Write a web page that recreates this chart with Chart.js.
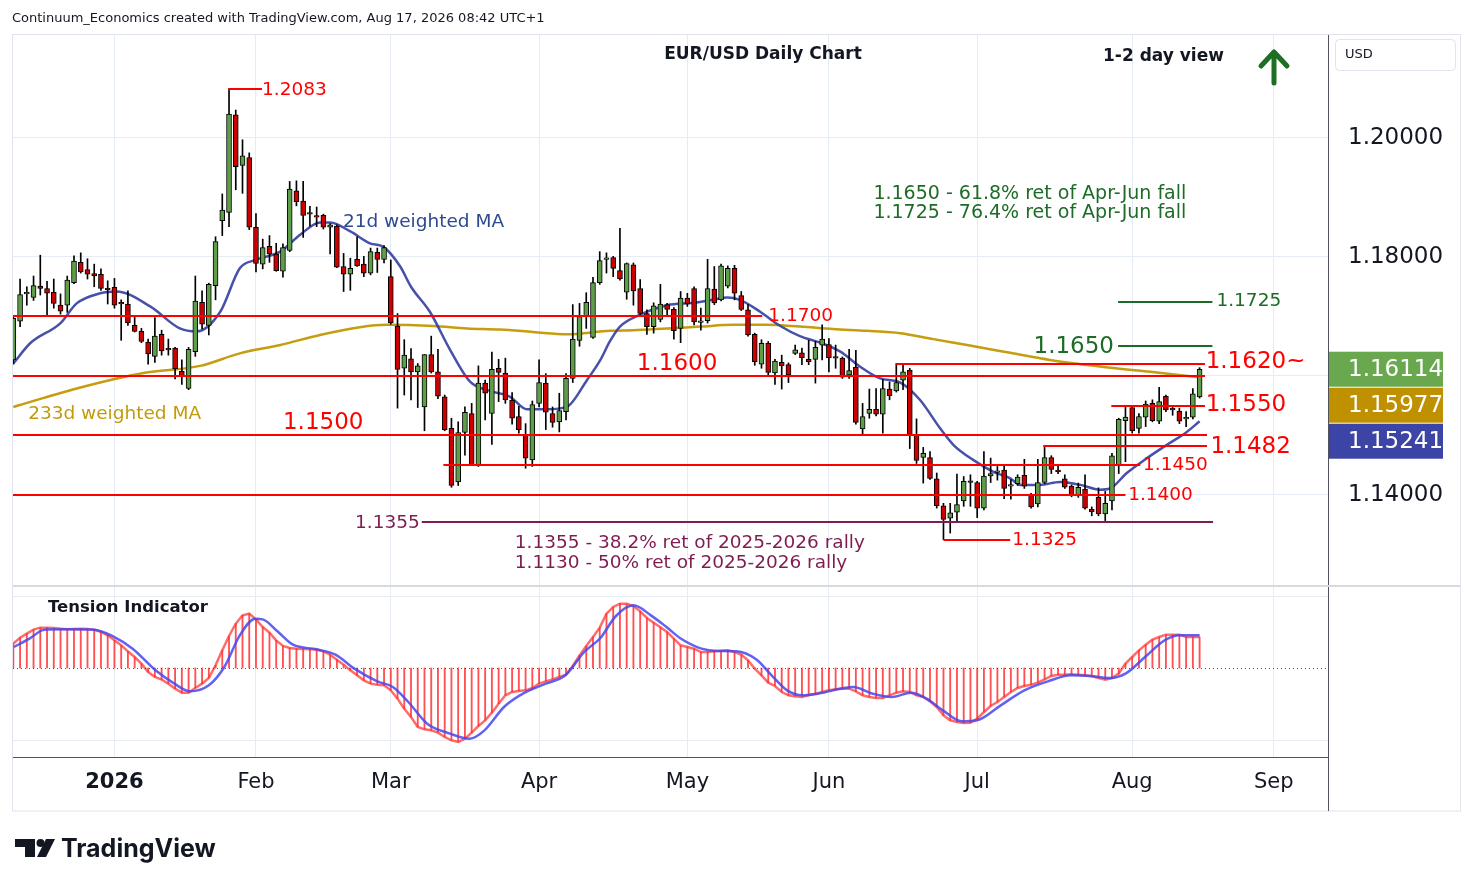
<!DOCTYPE html>
<html lang="en">
<head>
  <meta charset="UTF-8">
  <title>EUR/USD Daily Chart</title>
  <script src="https://cdn.jsdelivr.net/npm/chart.js"></script>
  <style>
    html, body { margin: 0; padding: 0; background: #fff; }
    .wrap { position: relative; width: 1474px; height: 887px; }
  </style>
</head>
<body>
<div class="wrap"><canvas id="chart"></canvas></div>

<script>
  // daily bars, 10 Dec 2025 .. 17 Aug 2026 (weekdays, no 25 Dec / 1 Jan)
  const firstDay = '2025-12-10';
  const holidays = ['2025-12-25', '2026-01-01'];
  const totalSlots = 196; // includes empty days on the right

  const opens = [
    1.1627,1.1692,1.1738,1.1732,1.1751,1.1747,1.1741,1.1719,1.1719,1.1757,
    1.1791,1.1779,1.1772,1.1771,1.1746,1.1749,1.1724,1.1721,1.1685,1.1675,
    1.1657,1.1633,1.1670,1.1645,1.1647,1.1608,1.1579,1.1641,1.1724,1.1685,
    1.1752,1.1861,1.1875,1.2039,1.1954,1.1967,1.1850,1.1788,1.1818,1.1805,
    1.1776,1.1811,1.1911,1.1894,1.1873,1.1868,1.1870,1.1850,1.1852,1.1784,
    1.1771,1.1796,1.1788,1.1773,1.1808,1.1796,1.1767,1.1684,1.1613,1.1629,
    1.1607,1.1548,1.1636,1.1607,1.1565,1.1512,1.1422,1.1505,1.1537,1.1450,
    1.1588,1.1537,1.1613,1.1605,1.1559,1.1532,1.1501,1.1459,1.1554,1.1588,
    1.1537,1.1523,1.1540,1.1596,1.1660,1.1701,1.1665,1.1757,1.1796,1.1799,
    1.1777,1.1741,1.1787,1.1747,1.1705,1.1683,1.1695,1.1720,1.1712,1.1680,
    1.1731,1.1747,1.1690,1.1693,1.1746,1.1728,1.1751,1.1781,1.1735,1.1711,
    1.1670,1.1620,1.1655,1.1605,1.1623,1.1619,1.1638,1.1639,1.1628,1.1628,
    1.1652,1.1653,1.1631,1.1630,1.1602,1.1615,1.1511,1.1537,1.1544,1.1536,
    1.1578,1.1575,1.1593,1.1610,1.1501,1.1463,1.1463,1.1427,1.1382,1.1361,
    1.1371,1.1390,1.1424,1.1421,1.1378,1.1432,1.1438,1.1442,1.1415,1.1419,
    1.1433,1.1400,1.1385,1.1421,1.1463,1.1442,1.1427,1.1415,1.1399,1.1410,
    1.1376,1.1396,1.1368,1.1390,1.1451,1.1525,1.1547,1.1512,1.1531,1.1554,
    1.1524,1.1566,1.1544,1.1541,1.1528,1.1531,1.1565
  ];
  const highs = [
    1.1700,1.1763,1.1750,1.1768,1.1803,1.1759,1.1763,1.1738,1.1768,1.1802,
    1.1807,1.1797,1.1788,1.1780,1.1760,1.1764,1.1728,1.1743,1.1702,1.1680,
    1.1662,1.1698,1.1677,1.1662,1.1648,1.1627,1.1648,1.1768,1.1743,1.1756,
    1.1834,1.1906,1.2083,1.2047,1.1997,1.1975,1.1873,1.1830,1.1836,1.1823,
    1.1822,1.1927,1.1928,1.1927,1.1885,1.1884,1.1872,1.1856,1.1854,1.1806,
    1.1798,1.1834,1.1801,1.1815,1.1815,1.1819,1.1795,1.1705,1.1661,1.1646,
    1.1621,1.1636,1.1667,1.1645,1.1568,1.1529,1.1523,1.1548,1.1554,1.1617,
    1.1593,1.1640,1.1628,1.1630,1.1572,1.1549,1.1520,1.1558,1.1627,1.1604,
    1.1548,1.1571,1.1604,1.1720,1.1722,1.1740,1.1766,1.1809,1.1807,1.1801,
    1.1848,1.1790,1.1790,1.1762,1.1711,1.1723,1.1754,1.1722,1.1715,1.1742,
    1.1739,1.1750,1.1714,1.1796,1.1784,1.1788,1.1785,1.1786,1.1742,1.1720,
    1.1672,1.1661,1.1658,1.1628,1.1635,1.1622,1.1652,1.1647,1.1660,1.1658,
    1.1686,1.1663,1.1652,1.1632,1.1645,1.1643,1.1554,1.1578,1.1579,1.1594,
    1.1590,1.1621,1.1621,1.1613,1.1528,1.1480,1.1473,1.1437,1.1386,1.1386,
    1.1435,1.1431,1.1434,1.1423,1.1473,1.1462,1.1448,1.1449,1.1426,1.1434,
    1.1460,1.1403,1.1460,1.1482,1.1466,1.1449,1.1434,1.1417,1.1420,1.1434,
    1.1380,1.1412,1.1406,1.1470,1.1529,1.1548,1.1550,1.1537,1.1558,1.1560,
    1.1581,1.1568,1.1548,1.1546,1.1540,1.1579,1.1614
  ];
  const lows = [
    1.1620,1.1683,1.1719,1.1727,1.1736,1.1703,1.1714,1.1704,1.1707,1.1755,
    1.1773,1.1763,1.1750,1.1744,1.1721,1.1714,1.1660,1.1685,1.1674,1.1656,
    1.1620,1.1623,1.1635,1.1635,1.1595,1.1586,1.1577,1.1633,1.1679,1.1669,
    1.1728,1.1836,1.1851,1.1913,1.1907,1.1846,1.1775,1.1780,1.1791,1.1776,
    1.1766,1.1809,1.1886,1.1833,1.1852,1.1851,1.1847,1.1805,1.1782,1.1742,
    1.1744,1.1784,1.1767,1.1770,1.1774,1.1790,1.1687,1.1546,1.1568,1.1560,
    1.1547,1.1508,1.1605,1.1562,1.1508,1.1413,1.1416,1.1467,1.1450,1.1448,
    1.1526,1.1485,1.1557,1.1554,1.1519,1.1504,1.1445,1.1448,1.1548,1.1510,
    1.1514,1.1506,1.1526,1.1589,1.1650,1.1680,1.1663,1.1754,1.1773,1.1767,
    1.1761,1.1729,1.1719,1.1703,1.1670,1.1672,1.1691,1.1700,1.1662,1.1656,
    1.1717,1.1686,1.1677,1.1689,1.1720,1.1726,1.1748,1.1728,1.1710,1.1667,
    1.1618,1.1613,1.1600,1.1586,1.1578,1.1589,1.1636,1.1619,1.1619,1.1588,
    1.1627,1.1607,1.1613,1.1596,1.1596,1.1519,1.1503,1.1529,1.1533,1.1504,
    1.1560,1.1573,1.1577,1.1478,1.1453,1.1420,1.1426,1.1378,1.1325,1.1336,
    1.1357,1.1381,1.1381,1.1362,1.1375,1.1421,1.1425,1.1394,1.1393,1.1416,
    1.1411,1.1378,1.1380,1.1419,1.1436,1.1436,1.1411,1.1397,1.1396,1.1376,
    1.1365,1.1365,1.1357,1.1375,1.1436,1.1456,1.1504,1.1504,1.1515,1.1523,
    1.1520,1.1540,1.1534,1.1520,1.1515,1.1528,1.1563
  ];
  const closes = [
    1.1697,1.1737,1.1740,1.1752,1.1747,1.1739,1.1722,1.1709,1.1761,1.1793,
    1.1775,1.1771,1.1768,1.1747,1.1745,1.1719,1.1721,1.1689,1.1675,1.1658,
    1.1637,1.1667,1.1642,1.1644,1.1612,1.1599,1.1645,1.1726,1.1687,1.1754,
    1.1826,1.1879,1.2040,1.1952,1.1970,1.1850,1.1789,1.1816,1.1805,1.1777,
    1.1816,1.1914,1.1893,1.1870,1.1872,1.1867,1.1850,1.1854,1.1783,1.1771,
    1.1781,1.1785,1.1773,1.1809,1.1796,1.1816,1.1689,1.1611,1.1635,1.1607,
    1.1617,1.1636,1.1607,1.1566,1.1510,1.1416,1.1505,1.1539,1.1451,1.1588,
    1.1571,1.1611,1.1606,1.1560,1.1529,1.1510,1.1462,1.1552,1.1589,1.1539,
    1.1522,1.1542,1.1596,1.1662,1.1700,1.1724,1.1757,1.1794,1.1797,1.1781,
    1.1763,1.1789,1.1743,1.1705,1.1683,1.1718,1.1721,1.1712,1.1676,1.1731,
    1.1721,1.1691,1.1691,1.1747,1.1723,1.1785,1.1781,1.1739,1.1712,1.1669,
    1.1624,1.1655,1.1606,1.1625,1.1617,1.1602,1.1644,1.1631,1.1624,1.1648,
    1.1662,1.1631,1.1630,1.1598,1.1609,1.1522,1.1532,1.1544,1.1536,1.1579,
    1.1567,1.1589,1.1607,1.1502,1.1458,1.1470,1.1428,1.1382,1.1359,1.1370,
    1.1384,1.1423,1.1421,1.1378,1.1432,1.1436,1.1440,1.1411,1.1417,1.1430,
    1.1415,1.1380,1.1421,1.1463,1.1443,1.1439,1.1413,1.1399,1.1413,1.1378,
    1.1372,1.1368,1.1386,1.1466,1.1527,1.1531,1.1508,1.1532,1.1553,1.1525,
    1.1557,1.1543,1.1543,1.1524,1.1529,1.1570,1.1611
  ];

  // moving averages, read at the points where they could be read (bar index, value)
  const wma21Idx = [0,2.5,7,9.4,12.9,15.3,20.3,24.7,27.2,30.7,33.6,35.9,39.6,42.5,45.5,47,50,52.9,54.9,57.4,
    59,61.8,64.8,67.8,70.7,73.7,76.2,79.2,82.1,85.1,87.1,88.5,90,93,97,100.9,103.8,105.9,107.8,110.8,
    113.8,116.7,119.7,122.7,125.6,128.6,131.6,134.5,137.5,139.5,142.4,145.4,147.9,149.4,152.3,155.3,158.3,161.2,162.7,165.2,
    168.2,171.1,174.1,176];
  const wma21Val = [1.1621,1.1655,1.1689,1.1722,1.1739,1.1742,1.1717,1.1680,1.1675,1.1708,1.1781,1.1795,1.1809,1.1837,1.1858,1.1858,1.1843,1.1823,1.1817,1.1784,
    1.1750,1.1708,1.1644,1.1590,1.1575,1.1565,1.1544,1.1544,1.1548,1.1593,1.1627,1.1658,1.1683,1.1703,1.1719,1.1723,1.1728,1.1732,1.1728,1.1708,
    1.1684,1.1667,1.1656,1.1641,1.1616,1.1596,1.1589,1.1560,1.1512,1.1484,1.1459,1.1439,1.1428,1.1417,1.1417,1.1422,1.1417,1.1409,1.1411,1.1437,
    1.1462,1.1484,1.1506,1.1524];
  const wma233Idx = [0,9.4,19.3,27.7,33.6,39.6,45.5,51.4,55.4,62.3,67.3,72.2,77.1,82.1,88.5,92,97,101.9,106.8,111.8,
    116.7,121.6,126.6,131.6,136.5,141.5,147.9,153.8,161.2,168.7,176];
  const wma233Val = [1.1548,1.1579,1.1605,1.1617,1.1638,1.1652,1.1669,1.1682,1.1686,1.1684,1.1680,1.1678,1.1674,1.1670,1.1676,1.1677,1.1680,1.1683,1.1686,1.1686,
    1.1683,1.1679,1.1676,1.1672,1.1662,1.1652,1.1639,1.1627,1.1616,1.1607,1.1598];

  // tension indicator: histogram per bar, signal line at read points
  const tension = [
    7.3,9.1,10.3,11.5,12.1,12.1,12.0,11.8,11.6,11.7,
    11.8,11.7,11.5,10.8,9.8,8.3,6.8,5.0,3.3,1.3,
    -1.2,-2.7,-3.5,-4.7,-6.2,-7.4,-7.4,-6.0,-4.7,-3.0,
    0.8,5.3,9.6,13.3,15.8,16.3,14.6,12.3,10.6,8.3,
    6.6,6.0,5.8,5.7,5.6,5.5,5.0,4.0,2.5,1.0,
    -0.7,-2.2,-3.7,-4.7,-5.0,-5.2,-6.7,-9.2,-12.2,-14.7,
    -17.7,-18.4,-18.7,-19.4,-20.7,-21.7,-22.2,-21.2,-19.4,-17.4,
    -15.7,-13.4,-10.7,-8.2,-7.2,-6.9,-6.7,-6.0,-4.7,-4.0,
    -3.4,-2.7,-2.0,0.6,3.8,6.6,9.3,12.1,16.3,18.3,
    19.3,19.3,18.6,17.0,15.0,13.6,12.2,10.8,8.8,6.8,
    6.3,5.8,4.8,4.8,5.0,5.2,5.3,4.8,4.0,2.3,
    -0.2,-2.2,-4.4,-5.4,-7.2,-8.2,-8.5,-8.7,-8.2,-7.7,
    -7.2,-6.7,-6.4,-6.2,-6.2,-7.0,-8.2,-8.7,-9.0,-9.0,
    -8.2,-7.4,-7.0,-7.2,-8.2,-8.7,-10.0,-11.7,-14.2,-15.7,
    -16.2,-16.5,-16.4,-15.2,-13.2,-11.4,-10.2,-8.7,-7.2,-6.0,
    -5.4,-5.0,-4.4,-3.4,-2.4,-2.0,-2.0,-1.9,-2.0,-2.2,
    -2.5,-3.0,-3.5,-3.0,-1.7,1.3,3.3,5.3,7.0,8.5,
    9.3,10.0,10.0,10.0,9.3,9.3,9.3
  ];
  const signalIdx = [0.1,2.4,4.6,8.0,12.0,14.8,17.7,21.1,23.9,26.2,29.0,31.3,33.6,35.9,37.0,39.3,41.5,45.0,47.8,50.6,
    54.0,56.3,58.6,61.4,64.8,67.7,69.9,72.8,75.6,79.0,81.9,84.7,87.1,89.4,92.0,94.6,96.9,98.9,102.1,104.4,
    107.3,110.2,112.5,114.8,117.1,119.4,124.6,127.5,130.3,133.2,135.5,137.9,140.7,143.0,146.5,150.0,153.5,156.9,159.8,162.7,
    165.0,167.9,170.8,173.1,176.0];
  const signalVal = [6.3,8.8,11.5,11.6,11.5,9.5,5.8,-0.7,-4.7,-7.0,-5.2,0.3,9.8,14.8,14.6,10.8,7.0,5.6,4.0,-0.2,
    -4.0,-5.7,-10.2,-16.7,-19.7,-21.2,-18.7,-11.7,-7.7,-4.7,-2.2,4.8,9.0,15.6,18.8,15.8,12.3,9.0,5.8,5.1,
    5.0,2.6,-2.2,-6.7,-8.2,-7.7,-5.7,-7.7,-8.7,-7.4,-9.2,-12.7,-16.0,-15.7,-11.2,-6.7,-4.0,-2.2,-2.4,-3.0,
    -1.7,3.3,8.3,9.8,9.8];

  const priceTicks = [1.14, 1.16, 1.18, 1.20];
  const lastValues = [1.16114, 1.15977, 1.15241];
  const monthNames = ['Jan','Feb','Mar','Apr','May','Jun','Jul','Aug','Sep','Oct','Nov','Dec'];

  const GREEN = '#5f9e48', RED = '#cc0000';
  const LRED = '#ff0000', MAROON = '#7f1d50', DGREEN = '#1d6b27';
  const FONT = '"DejaVu Sans", sans-serif';

  // drawn levels: price, from bar, to bar
  const levels = [
    { p: 1.2083, from: 31.9, to: 36.9, color: LRED },
    { p: 1.1700, from: -0.05, to: 111.1, color: LRED },
    { p: 1.1600, from: -0.05, to: 176.8, color: LRED },
    { p: 1.1620, from: 131, to: 176.8, color: LRED },
    { p: 1.1550, from: 162.9, to: 176.8, color: LRED },
    { p: 1.1500, from: -0.05, to: 177.1, color: LRED },
    { p: 1.1482, from: 152.8, to: 177.1, color: LRED },
    { p: 1.1450, from: 63.8, to: 167.2, color: LRED },
    { p: 1.1400, from: -0.05, to: 165, color: LRED },
    { p: 1.1355, from: 60.6, to: 178, color: MAROON },
    { p: 1.1325, from: 138, to: 147.9, color: LRED },
    { p: 1.1725, from: 163.9, to: 177.9, color: DGREEN },
    { p: 1.1650, from: 163.9, to: 177.9, color: DGREEN }
  ];
  const notes = [
    { t: '1.2083', i: 36.9, p: 1.2081, c: LRED, s: 18.5 },
    { t: '1.1700', i: 112, p: 1.1700, c: LRED, s: 18.5 },
    { t: '1.1600', i: 92.5, p: 1.1620, c: LRED, s: 23 },
    { t: '1.1500', i: 40, p: 1.1521, c: LRED, s: 23 },
    { t: '1.1620~', i: 176.9, p: 1.16235, c: LRED, s: 23 },
    { t: '1.1550', i: 176.9, p: 1.1551, c: LRED, s: 23 },
    { t: '1.1482', i: 177.6, p: 1.1481, c: LRED, s: 23 },
    { t: '1.1450', i: 167.6, p: 1.1450, c: LRED, s: 18.5 },
    { t: '1.1400', i: 165.4, p: 1.1400, c: LRED, s: 18.5 },
    { t: '1.1355', i: 60.3, p: 1.1353, c: MAROON, s: 18.5, a: 'right' },
    { t: '1.1325', i: 148.2, p: 1.1324, c: LRED, s: 18.5 },
    { t: '1.1725', i: 178.5, p: 1.1726, c: DGREEN, s: 18.5 },
    { t: '1.1650', i: 163.3, p: 1.1648, c: DGREEN, s: 23, a: 'right' },
    { t: '21d weighted MA', i: 48.9, p: 1.1859, c: '#2e4a8e', s: 18.5 },
    { t: '233d weighted MA', i: 2.2, p: 1.1535, c: '#c29b0c', s: 18.5 },
    { t: '1.1650 - 61.8% ret of Apr-Jun fall', i: 127.6, p: 1.1906, c: DGREEN, s: 19 },
    { t: '1.1725 - 76.4% ret of Apr-Jun fall', i: 127.6, p: 1.1874, c: DGREEN, s: 19 },
    { t: '1.1355 - 38.2% ret of 2025-2026 rally', i: 74.4, p: 1.1319, c: MAROON, s: 18.5 },
    { t: '1.1130 - 50% ret of 2025-2026 rally', i: 74.4, p: 1.1286, c: MAROON, s: 18.5 }
  ];

  function buildDates() {
    const out = [];
    const d = new Date(firstDay + 'T00:00:00Z');
    while (out.length < totalSlots) {
      const s = d.toISOString().slice(0, 10);
      const wd = d.getUTCDay();
      if (wd !== 0 && wd !== 6 && !holidays.includes(s)) out.push(s);
      d.setUTCDate(d.getUTCDate() + 1);
    }
    return out;
  }
  const dates = buildDates();
  const monthTicks = [];
  dates.forEach((s, i) => {
    if (i > 0 && s.slice(5, 7) !== dates[i - 1].slice(5, 7)) monthTicks.push(i);
  });
  function monthLabel(i) {
    const m = parseInt(dates[i].slice(5, 7), 10) - 1;
    return m === 0 ? dates[i].slice(0, 4) : monthNames[m];
  }

  const wicks = lows.map((l, i) => ({ x: i, y: [l, highs[i]] }));
  const bodies = opens.map((o, i) => ({ x: i, y: [o, closes[i]] }));
  const bodyColors = opens.map((o, i) => closes[i] >= o ? GREEN : RED);
  const wma21 = wma21Idx.map((v, k) => ({ x: v, y: wma21Val[k] }));
  const wma233 = wma233Idx.map((v, k) => ({ x: v, y: wma233Val[k] }));
  const hist = tension.map((v, i) => ({ x: i, y: v }));
  const signal = signalIdx.map((v, k) => ({ x: v, y: signalVal[k] }));

  function label(ctx, s, x, y, font, color, align) {
    ctx.font = font;
    ctx.fillStyle = color;
    ctx.textAlign = align || 'left';
    ctx.textBaseline = 'middle';
    ctx.fillText(s, x, y);
  }

  const overlay = {
    id: 'overlay',
    beforeDraw(c) {
      const ctx = c.ctx;
      ctx.save();
      ctx.fillStyle = '#fff';
      ctx.fillRect(0, 0, c.width, c.height);
      ctx.restore();
    },
    afterDatasetsDraw(c) {
      const { ctx, chartArea: a, scales: { x, y, y2 } } = c;
      ctx.save();
      // zero line of the indicator
      ctx.strokeStyle = 'rgba(230,0,0,0.9)';
      ctx.lineWidth = 1;
      ctx.setLineDash([1, 3]);
      const zy = Math.round(y2.getPixelForValue(0)) + 0.5;
      ctx.beginPath(); ctx.moveTo(a.left, zy); ctx.lineTo(a.right, zy); ctx.stroke();
      ctx.setLineDash([]);

      levels.forEach(l => {
        const py = Math.round(y.getPixelForValue(l.p));
        ctx.strokeStyle = l.color;
        ctx.lineWidth = 2;
        ctx.beginPath();
        ctx.moveTo(x.getPixelForValue(l.from), py);
        ctx.lineTo(x.getPixelForValue(l.to), py);
        ctx.stroke();
      });
      notes.forEach(n => {
        label(ctx, n.t, x.getPixelForValue(n.i), y.getPixelForValue(n.p),
          n.s + 'px ' + FONT, n.c, n.a);
      });

      label(ctx, 'EUR/USD Daily Chart', 763, 55, 'bold 17px ' + FONT, '#131722', 'center');
      label(ctx, '1-2 day view', 1103, 57, 'bold 17px ' + FONT, '#131722');
      label(ctx, 'Tension Indicator', 48, 608, 'bold 16.5px ' + FONT, '#131722');

      // up arrow
      ctx.strokeStyle = '#1e6e24';
      ctx.lineWidth = 5;
      ctx.lineCap = 'round';
      ctx.lineJoin = 'round';
      ctx.beginPath();
      ctx.moveTo(1274, 83); ctx.lineTo(1274, 53);
      ctx.moveTo(1261, 66); ctx.lineTo(1274, 52); ctx.lineTo(1287, 66);
      ctx.stroke();
      ctx.restore();
    },
    afterDraw(c) {
      const { ctx, chartArea: a, scales: { y, y2 } } = c;
      ctx.save();
      // panel separator
      ctx.strokeStyle = '#d6d9e0';
      ctx.lineWidth = 2;
      ctx.beginPath(); ctx.moveTo(12, y2.top); ctx.lineTo(1460, y2.top); ctx.stroke();

      // last value boxes
      const boxColors = ['#6aa84f', '#bf9000', '#3c44a5'];
      let prevBottom = -1e9;
      lastValues.forEach((v, k) => {
        let top = y.getPixelForValue(v) - 17.5;
        if (top < prevBottom + 1) top = prevBottom + 1;
        ctx.fillStyle = boxColors[k];
        ctx.fillRect(a.right + 1, top, 114, 35);
        label(ctx, v.toFixed(5), a.right + 20, top + 18, '23px ' + FONT, '#fff');
        prevBottom = top + 35;
      });

      // currency box
      ctx.strokeStyle = '#e0e3eb';
      ctx.lineWidth = 1;
      ctx.beginPath();
      ctx.roundRect(1335.5, 39.5, 120, 31, 4);
      ctx.stroke();
      label(ctx, 'USD', 1345, 55, '13px ' + FONT, '#131722');

      // frame
      ctx.strokeStyle = '#e0e3eb';
      ctx.strokeRect(12.5, 34.5, 1448, 776.5);
      ctx.strokeStyle = '#50535e';
      ctx.beginPath(); ctx.moveTo(a.right + 0.5, a.bottom); ctx.lineTo(a.right + 0.5, 811); ctx.stroke();

      // header and logo
      label(ctx, 'Continuum_Economics created with TradingView.com, Aug 17, 2026 08:42 UTC+1',
        12, 19, '13px ' + FONT, '#131722');
      ctx.fillStyle = '#131722';
      ctx.fillRect(15, 839, 20, 8);
      ctx.fillRect(25, 839, 10, 18);
      ctx.beginPath(); ctx.arc(40.5, 843, 4, 0, Math.PI * 2); ctx.fill();
      ctx.beginPath();
      ctx.moveTo(46, 839); ctx.lineTo(55, 839); ctx.lineTo(46, 857); ctx.lineTo(37, 857);
      ctx.closePath(); ctx.fill();
      label(ctx, 'TradingView', 61, 849, 'bold 25px Inter, sans-serif', '#131722');
      ctx.restore();
    }
  };

  const paneAxis = (s) => { s.width = 132; };

  new Chart(document.getElementById('chart'), {
    type: 'bar',
    data: {
      datasets: [
        { type: 'bar', data: bodies, backgroundColor: bodyColors, borderColor: '#000', borderWidth: 1,
          borderSkipped: false, barThickness: 5, minBarLength: 1.5, grouped: false, yAxisID: 'y', order: 1 },
        { type: 'bar', data: wicks, backgroundColor: '#000', barThickness: 1, grouped: false,
          yAxisID: 'y', order: 2 },
        { type: 'line', data: wma21, borderColor: 'rgba(52,62,160,0.9)', borderWidth: 2.5, pointRadius: 0,
          cubicInterpolationMode: 'monotone', yAxisID: 'y', order: 3 },
        { type: 'line', data: wma233, borderColor: '#c59d0e', borderWidth: 2.5, pointRadius: 0,
          cubicInterpolationMode: 'monotone', yAxisID: 'y', order: 4 },
        { type: 'line', data: signal, borderColor: 'rgba(70,70,240,0.85)', borderWidth: 2.5, pointRadius: 0,
          cubicInterpolationMode: 'monotone', yAxisID: 'y2', order: 5 },
        { type: 'line', data: hist, borderColor: 'rgba(255,45,45,0.7)', borderWidth: 2.5, pointRadius: 0,
          yAxisID: 'y2', order: 6 },
        { type: 'bar', data: hist, backgroundColor: 'rgba(255,50,50,0.85)', barThickness: 1.2, grouped: false,
          yAxisID: 'y2', order: 7 }
      ]
    },
    options: {
      responsive: true,
      maintainAspectRatio: false,
      animation: false,
      events: [],
      layout: { padding: { left: 13, right: 14, top: 35, bottom: 77 } },
      plugins: { legend: { display: false }, tooltip: { enabled: false } },
      scales: {
        x: {
          type: 'linear', min: -0.05, max: 195.05, offset: false,
          afterBuildTicks: s => { s.ticks = monthTicks.map(v => ({ value: v })); },
          afterFit: s => { s.height = 53; },
          ticks: {
            autoSkip: false, maxRotation: 0, padding: 13, color: '#131722',
            callback: v => monthLabel(v),
            font: c => ({ family: FONT, size: 21, weight: c.tick && c.tick.value === monthTicks[0] ? 'bold' : 'normal' })
          },
          grid: { color: '#e6ecf3', drawTicks: false, offset: false },
          border: { color: '#50535e' }
        },
        y: {
          position: 'right', stack: 'panes', stackWeight: 551,
          min: 1.124706, max: 1.21731,
          afterBuildTicks: s => { s.ticks = priceTicks.map(v => ({ value: v })); },
          afterFit: paneAxis,
          ticks: { padding: 20, color: '#131722', font: { family: FONT, size: 23 },
            callback: v => (v === 1.16 ? '' : v.toFixed(5)) },
          grid: { color: '#e6ecf3', drawTicks: false },
          border: { color: '#50535e' }
        },
        y2: {
          position: 'right', stack: 'panes', stackWeight: 171,
          min: -26.7, max: 24.6,
          afterBuildTicks: s => { s.ticks = [-21.6, 21.6].map(v => ({ value: v })); },
          afterFit: paneAxis,
          ticks: { display: false },
          grid: { color: '#e6ecf3', drawTicks: false },
          border: { color: '#50535e' }
        }
      }
    },
    plugins: [overlay]
  });
</script>
</body>
</html>
